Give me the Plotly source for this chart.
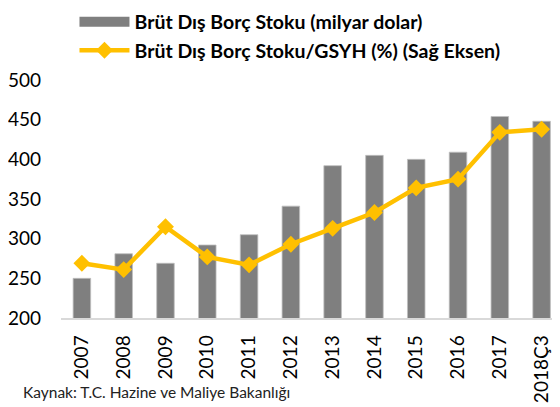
import plotly.graph_objects as go

years = ["2007", "2008", "2009", "2010", "2011", "2012", "2013", "2014",
         "2015", "2016", "2017", "2018Ç3"]
debt_stock = [250, 281, 269, 292, 305, 341, 392, 405, 400, 409, 454, 448]
debt_gdp = [36.9, 36.1, 41.5, 37.7, 36.7, 39.3, 41.3, 43.3, 46.4, 47.5, 53.4, 53.8]

C = {"bar": "#7f7f7f", "line": "#FFC000", "text": "#000000", "axis": "#d9d9d9"}
FONT = "Lato, Carlito, Calibri, sans-serif"

fig = go.Figure()
fig.add_trace(go.Bar(
    x=years, y=debt_stock, width=0.42, showlegend=False,
    marker=dict(color=C["bar"], line=dict(color="#bfbfbf", width=0.8)),
))
# legend stand-in for the bars (wide grey swatch like the original)
fig.add_trace(go.Scatter(
    x=[None], y=[None], mode="lines", name="<b>Brüt Dış Borç Stoku (milyar dolar)</b>",
    line=dict(color=C["bar"], width=10), legendgroup="a",
))
fig.add_trace(go.Scatter(
    x=years, y=debt_gdp, yaxis="y2", mode="lines+markers",
    name="<b>Brüt Dış Borç Stoku/GSYH (%) (Sağ Eksen)</b>",
    line=dict(color=C["line"], width=4.5),
    marker=dict(symbol="diamond", size=13, color=C["line"]),
    legendgroup="b",
))

# page body has an 8px margin, so the figure is sized/offset to compensate
fig.update_layout(
    width=552, height=399,
    margin=dict(l=53, r=0, t=72, b=89, autoexpand=False),
    paper_bgcolor="white", plot_bgcolor="white",
    font=dict(family=FONT, size=17, color=C["text"]),
    legend=dict(
        x=0.027, y=1.325, xanchor="left", yanchor="top",
        orientation="v", itemwidth=50, tracegroupgap=0,
        font=dict(size=19.5, family=FONT),
        bgcolor="rgba(0,0,0,0)",
    ),
    xaxis=dict(
        type="category", range=[-0.5, 11.44], tickangle=-90,
        showline=True, linecolor=C["axis"], linewidth=1.5,
        showgrid=False, ticks="outside", ticklen=8, tickcolor="rgba(0,0,0,0)",
        tickfont=dict(size=19), automargin=False,
    ),
    yaxis=dict(
        range=[200, 500], dtick=50, showgrid=False, showline=False,
        zeroline=False, ticks="", tickfont=dict(size=19),
        ticklabelstandoff=19, automargin=False,
    ),
    yaxis2=dict(
        overlaying="y", side="right", range=[30, 60],
        visible=False, showgrid=False,
    ),
)

fig.add_annotation(
    text="Kaynak: T.C. Hazine ve Maliye Bakanlığı",
    xref="paper", yref="paper", x=-0.08, y=-0.311,
    xanchor="left", yanchor="middle", showarrow=False,
    font=dict(size=15.5, family=FONT, color="#222222"),
)

fig.write_html("out.html")
